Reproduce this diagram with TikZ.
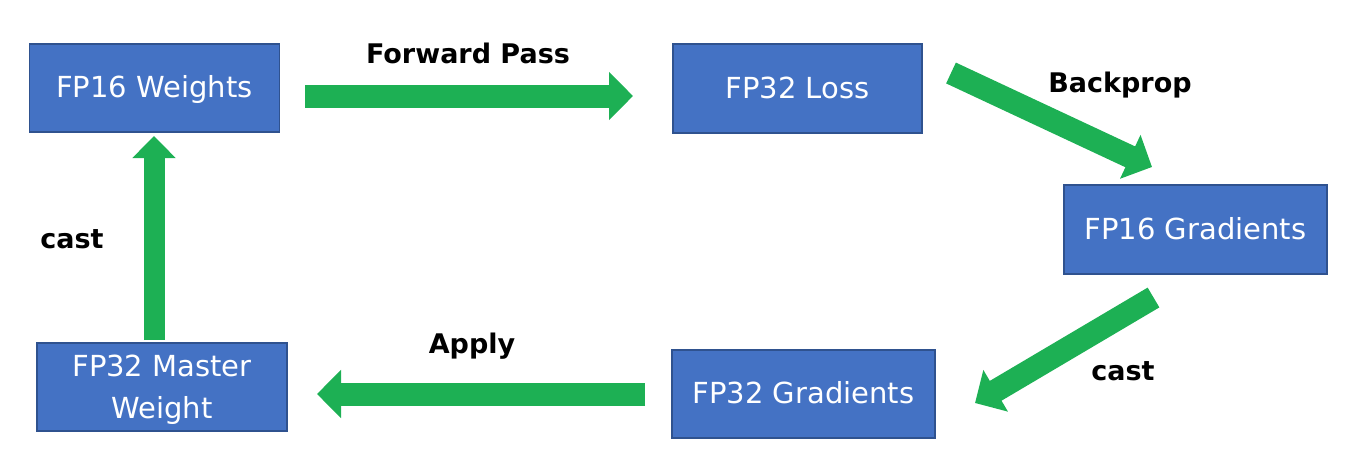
\documentclass[tikz,border=0pt]{standalone}
\usepackage{fontspec}
\setmainfont{DejaVu Sans}
\usetikzlibrary{arrows.meta}
\definecolor{boxfill}{HTML}{4472C4}
\definecolor{boxline}{HTML}{2F528F}
\definecolor{arrgreen}{HTML}{1DB054}
\tikzset{
  stagebox/.style={rectangle, fill=boxfill, draw=boxline, line width=1.5pt,
    text=white, font=\fontsize{29}{42}\selectfont, align=center,
    inner sep=0pt, text height=19pt, text depth=0pt},
  steplabel/.style={font=\fontsize{27}{30}\selectfont\bfseries, text=black,
    inner sep=0pt, text height=19.7pt, text depth=0pt},
  bigarrow/.style={draw=arrgreen, line width=23pt,
    -{Triangle[length=24pt, width=47pt]}}
}
\begin{document}
\begin{tikzpicture}[x=1pt, y=-1pt]
\useasboundingbox (0,0) rectangle (1352,466);
% boxes
\node[stagebox, minimum width=250pt, minimum height=88pt] (w16) at (154.5,88) {FP16 Weights};
\node[stagebox, minimum width=249pt, minimum height=89pt] (l32) at (797.5,88.5) {FP32 Loss};
\node[stagebox, minimum width=263pt, minimum height=89pt] (g16) at (1195.5,229.5) {FP16 Gradients};
\node[stagebox, minimum width=263pt, minimum height=88pt] (g32) at (803.5,394) {FP32 Gradients};
\node[stagebox, minimum width=250pt, minimum height=88pt, text height=63pt] (m32) at (162,387) {FP32 Master\\Weight};
% arrow end points
\coordinate (fwdA) at (305,96);
\coordinate (fwdB) at (633,96);
\coordinate (bpA) at (951,73);
\coordinate (bpB) at (1152,167);
\coordinate (ctA) at (1153.5,297.5);
\coordinate (ctB) at (975,403);
\coordinate (apA) at (645,394);
\coordinate (apB) at (317,394);
\coordinate (upA) at (154,340);
\coordinate (upB) at (154,136);
% arrows
\draw[bigarrow] (fwdA) -- (fwdB);
\draw[bigarrow] (bpA) -- (bpB);
\draw[bigarrow] (ctA) -- (ctB);
\draw[bigarrow] (apA) -- (apB);
\draw[bigarrow, line width=21pt, -{Triangle[length=22pt, width=42pt]}] (upA) -- (upB);
% labels
\node[steplabel] (lfwd) at (468,53.5) {Forward Pass};
\node[steplabel] (lbp) at (1120,82.5) {Backprop};
\node[steplabel] (lct) at (1123,371) {cast};
\node[steplabel] (lap) at (472,344) {Apply};
\node[steplabel] (lct2) at (72,239) {cast};
\end{tikzpicture}
\end{document}
